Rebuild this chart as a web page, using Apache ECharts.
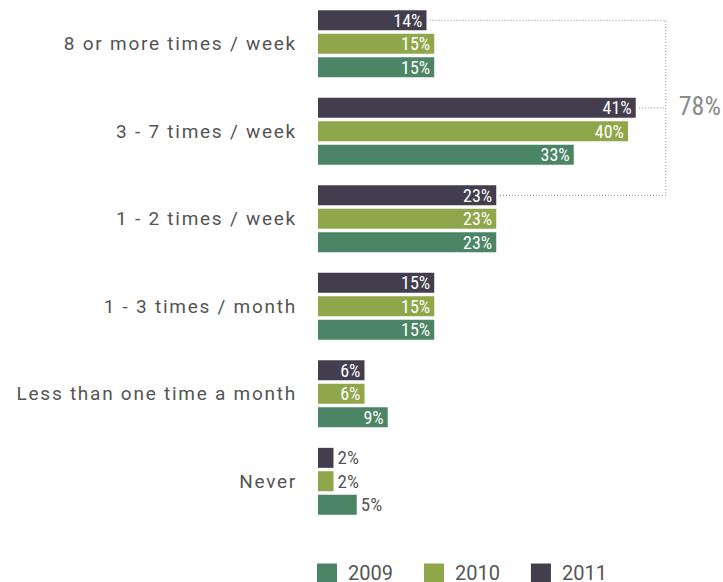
<!DOCTYPE html>
<html>
<head>
<meta charset="utf-8">
<script src="https://cdn.jsdelivr.net/npm/echarts@6/dist/echarts.min.js"></script>
<style>
html,body{margin:0;padding:0;background:#fff}
#main{width:723px;height:582px}
/* category labels are loosely tracked in the original */
#main text[fill="#545454"]{letter-spacing:1.75px}
</style>
</head>
<body>
<div id="main"></div>
<script>
var categories = ['8 or more times / week', '3 - 7 times / week', '1 - 2 times / week',
    '1 - 3 times / month', 'Less than one time a month', 'Never'];
var years = ['2009', '2010', '2011'];
var values2009 = [15, 33, 23, 15, 9, 5];
var values2010 = [15, 40, 23, 15, 6, 2];
var values2011 = [14, 41, 23, 15, 6, 2];
var bracketTotal = '78%';

var colors = {'2009': '#4b8566', '2010': '#8fa64a', '2011': '#433e4e'};
var narrow = '"Roboto Condensed", Roboto';

function barData(vals) {
    return vals.map(function (v) {
        if (v <= 5) {
            return {value: v, label: {position: 'right', distance: 4, color: '#555', fontSize: 19}};
        }
        return v;
    });
}

function makeSeries(name, vals) {
    return {
        name: name,
        type: 'bar',
        barWidth: 20,
        barGap: '17%',
        itemStyle: {color: colors[name]},
        label: {
            show: true,
            position: 'insideRight',
            distance: 4,
            formatter: '{c}%',
            color: '#fff',
            fontFamily: narrow,
            fontSize: 18
        },
        data: barData(vals)
    };
}

var myChart = echarts.init(document.getElementById('main'), null, {renderer: 'svg'});
var option = {
    animation: false,
    grid: {left: 318, right: 2, top: 0, height: 525},
    legend: {
        data: years,
        left: 317,
        top: 563,
        padding: 0,
        icon: 'rect',
        itemWidth: 20,
        itemHeight: 19,
        itemGap: 31,
        textStyle: {color: '#555', fontSize: 20, fontFamily: 'Roboto', padding: [0, 0, 0, 6]}
    },
    xAxis: {
        type: 'value',
        min: 0,
        max: 52,
        show: false
    },
    yAxis: {
        type: 'category',
        inverse: true,
        data: categories,
        axisLine: {show: false},
        axisTick: {show: false},
        axisLabel: {color: '#545454', fontSize: 19, fontFamily: 'Roboto', margin: 21}
    },
    series: [
        makeSeries('2011', values2011),
        makeSeries('2010', values2010),
        makeSeries('2009', values2009)
    ]
};
myChart.setOption(option);

// dotted bracket summing the top three categories for 2011
var topData = myChart.getModel().getSeriesByIndex(0).getData();
function endPoint(i) {
    var l = topData.getItemLayout(i);
    return [l.x + l.width, l.y + l.height / 2];
}
var p0 = endPoint(0), p1 = endPoint(1), p2 = endPoint(2);
var bx = p1[0] + 30;
var dotted = {stroke: '#888', lineWidth: 1, lineDash: [1, 2], fill: null};
myChart.setOption({
    graphic: [
        {type: 'polyline', shape: {points: [[p0[0] + 3, p0[1]], [bx, p0[1]], [bx, p2[1]], [p2[0] + 3, p2[1]]]}, style: dotted},
        {type: 'line', shape: {x1: p1[0] + 3, y1: p1[1], x2: bx, y2: p1[1]}, style: dotted},
        {type: 'text', left: bx + 13, top: p1[1] - 15,
            style: {text: bracketTotal, fill: '#8a8a8a', fontSize: 26, fontFamily: narrow}}
    ]
});
</script>
</body>
</html>
